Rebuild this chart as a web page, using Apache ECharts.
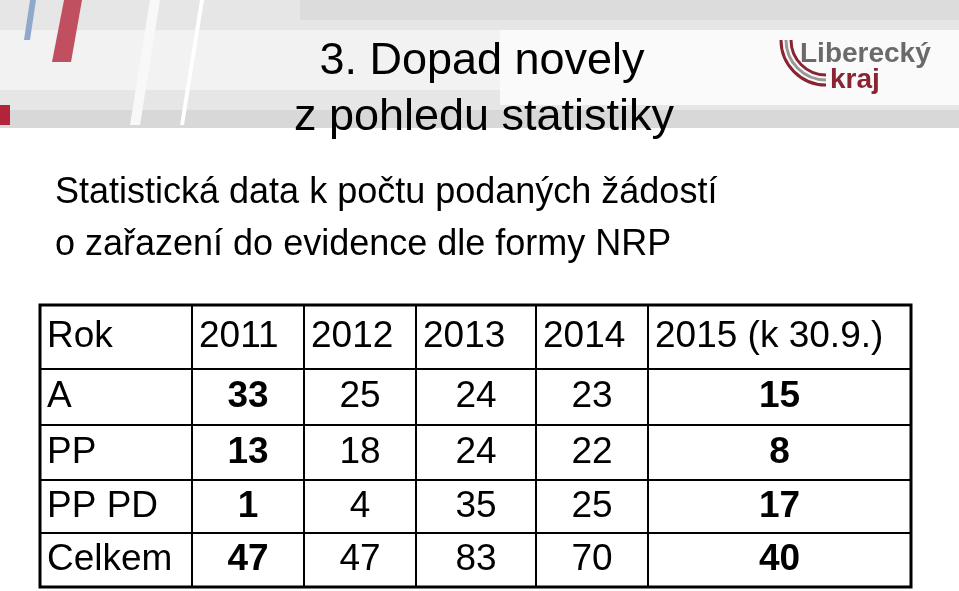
<!DOCTYPE html>
<html><head><meta charset="utf-8">
<script src="https://cdn.jsdelivr.net/npm/echarts@6/dist/echarts.min.js"></script>
<style>html,body{margin:0;padding:0;background:#fff}#c{width:959px;height:591px}</style>
</head><body><div id="c"></div>
<script>
const headers = ['Rok','2011','2012','2013','2014','2015 (k 30.9.)'];
const rowLabels = ['A','PP','PP PD','Celkem'];
const valA = [33,25,24,23,15];
const valPP = [13,18,24,22,8];
const valPPPD = [1,4,35,25,17];
const valCelkem = [47,47,83,70,40];
const boldCols = [1,5];
const colEdges = [0,152,264,376,496,608,871];
const rowEdges = [0,64,120,175,228,282];

const rows = [valA,valPP,valPPPD,valCelkem];
const cells = [];
headers.forEach((h,c)=>cells.push([c,0,h]));
rows.forEach((vals,r)=>{
  cells.push([0,r+1,rowLabels[r]]);
  vals.forEach((v,i)=>cells.push([i+1,r+1,String(v)]));
});
const FONT = '"Liberation Sans", Arial, sans-serif';
const chart = echarts.init(document.getElementById('c'));
chart.setOption({
  backgroundColor:'#fff',
  animation:false,
  grid:{left:40,top:305,width:871,height:282},
  xAxis:{type:'value',min:0,max:871,show:false},
  yAxis:{type:'value',min:0,max:282,inverse:true,show:false},
  graphic:[
    {type:'rect',shape:{x:0,y:0,width:959,height:130},style:{fill:'#e6e6e6'},z:-10},
    {type:'rect',shape:{x:0,y:30,width:959,height:60},style:{fill:'#f2f2f2'},z:-9},
    {type:'rect',shape:{x:300,y:0,width:659,height:20},style:{fill:'#dcdcdc'},z:-9},
    {type:'rect',shape:{x:500,y:30,width:459,height:75},style:{fill:'#fafafa'},z:-8},
    {type:'rect',shape:{x:0,y:110,width:959,height:18},style:{fill:'#d8d8d8'},z:-9},
    {type:'rect',shape:{x:0,y:128,width:959,height:20},style:{fill:'#ffffff'},z:-8},
    {type:'polygon',shape:{points:[[30,0],[36,0],[30,40],[24,40]]},style:{fill:'#8fa8cc'},z:-7},
    {type:'polygon',shape:{points:[[64,0],[82,0],[71,62],[52,62]]},style:{fill:'#c05060'},z:-7},
    {type:'polygon',shape:{points:[[150,0],[160,0],[140,125],[130,125]]},style:{fill:'#f8f8f8'},z:-7},
    {type:'polygon',shape:{points:[[200,0],[204,0],[184,125],[180,125]]},style:{fill:'#ffffff'},z:-7},
    {type:'rect',shape:{x:0,y:105,width:10,height:20},style:{fill:'#b2243a'},z:-7},
    {type:'text',style:{text:'3. Dopad novely',x:482,y:62,align:'center',verticalAlign:'middle',font:'45px '+FONT,fill:'#000'}},
    {type:'text',style:{text:'z pohledu statistiky',x:484,y:118,align:'center',verticalAlign:'middle',font:'45px '+FONT,fill:'#000'}},
    {type:'text',style:{text:'Liberecký',x:800,y:40,font:'bold 28px '+FONT,fill:'#6a6a6a'}},
    {type:'text',style:{text:'kraj',x:830,y:66,font:'bold 28px '+FONT,fill:'#8a2432'}},
    {type:'arc',shape:{cx:826,cy:40,r:45,startAngle:Math.PI/2,endAngle:Math.PI},style:{stroke:'#8a2432',lineWidth:3,fill:null}},
    {type:'arc',shape:{cx:826,cy:40,r:40,startAngle:Math.PI/2,endAngle:Math.PI},style:{stroke:'#999',lineWidth:3,fill:null}},
    {type:'arc',shape:{cx:826,cy:40,r:35,startAngle:Math.PI/2,endAngle:Math.PI},style:{stroke:'#8a2432',lineWidth:3,fill:null}},
    {type:'text',style:{text:'Statistická data k počtu podaných žádostí',x:55,y:193,verticalAlign:'middle',font:'36px '+FONT,fill:'#000'}},
    {type:'text',style:{text:'o zařazení do evidence dle formy NRP',x:55,y:245,verticalAlign:'middle',font:'36px '+FONT,fill:'#000'}}
  ],
  series:[{
    type:'custom',
    data:cells,
    renderItem:function(params,api){
      const c=api.value(0), r=api.value(1);
      const d=cells[params.dataIndex];
      const p0=api.coord([colEdges[c],rowEdges[r]]);
      const p1=api.coord([colEdges[c+1],rowEdges[r+1]]);
      const left = (c===0)||(r===0);
      const bold = r>0 && boldCols.indexOf(c)>=0;
      return {type:'group',children:[
        {type:'rect',shape:{x:p0[0],y:p0[1],width:p1[0]-p0[0],height:p1[1]-p0[1]},style:{fill:'#fff',stroke:'#000',lineWidth:2}},
        {type:'text',style:{text:d[2],x:left?p0[0]+7:(p0[0]+p1[0])/2,y:(p0[1]+p1[1])/2,
          align:left?'left':'center',verticalAlign:'middle',font:(bold?'bold ':'')+'37px '+FONT,fill:'#000'}}
      ]};
    }
  },{
    type:'custom',data:[[0]],z:3,
    renderItem:function(params,api){
      const p0=api.coord([0,0]),p1=api.coord([871,282]);
      return {type:'rect',shape:{x:p0[0],y:p0[1],width:p1[0]-p0[0],height:p1[1]-p0[1]},style:{fill:null,stroke:'#000',lineWidth:3}};
    }
  }]
});
</script></body></html>
